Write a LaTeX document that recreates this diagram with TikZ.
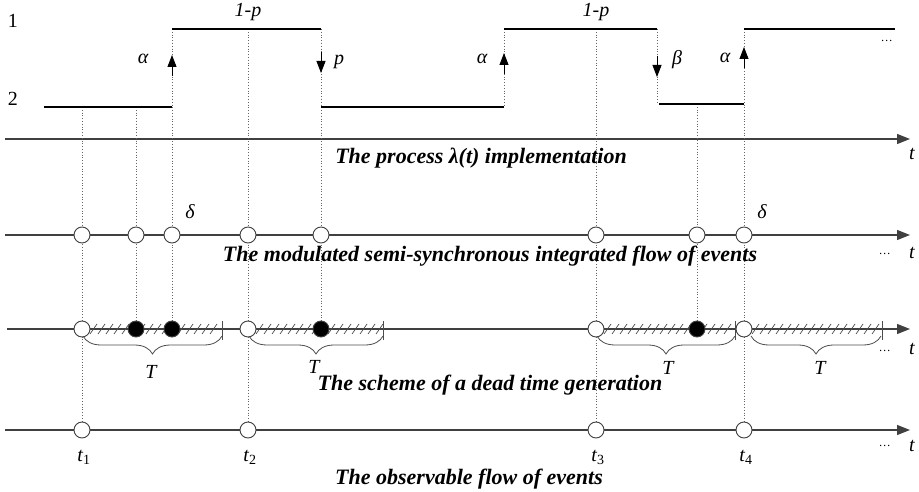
\documentclass[tikz,border=0pt]{standalone}
\usepackage{fontspec}
\setmainfont{Liberation Serif}
\usetikzlibrary{arrows.meta,decorations.pathreplacing}
\begin{document}
\begin{tikzpicture}[x=1pt,y=-1pt,
  axis/.style={draw=black!75, line width=1.2pt, -{Triangle[width=10pt,length=13pt]}},
  level/.style={line width=2.7pt, black},
  guide/.style={dotted, black!60, line width=0.8pt},
  jump/.style={black, line width=0.9pt, -{Triangle[width=9pt,length=12pt]}},
  ev/.style={circle, draw=black!75, fill=white, minimum size=16pt, inner sep=0pt, line width=0.9pt},
  evf/.style={ev, fill=black},
  lab/.style={font=\itshape\fontsize{20}{20}\selectfont, inner sep=0pt},
  num/.style={font=\fontsize{20}{20}\selectfont, inner sep=0pt},
  captxt/.style={font=\bfseries\itshape\fontsize{22}{22}\selectfont, inner sep=0pt},
  hatch/.style={black!70, line width=0.7pt},
  brc/.style={decorate, decoration={brace, amplitude=18pt, mirror}, black!70, line width=0.8pt}
]
\useasboundingbox (0,0) rectangle (919,492);

% axes
\coordinate (a1s) at (5,139);  \coordinate (a1e) at (910,139);
\coordinate (a2s) at (5,235);  \coordinate (a2e) at (910,235);
\coordinate (a3s) at (7,329);  \coordinate (a3e) at (910,329);
\coordinate (a4s) at (5,430);  \coordinate (a4e) at (910,430);
\draw[axis] (a1s) -- (a1e);
\draw[axis] (a2s) -- (a2e);
\draw[axis] (a3s) -- (a3e);
\draw[axis] (a4s) -- (a4e);

% level coordinates
\coordinate (s0) at (44,107);
\coordinate (u3) at (172,29);  \coordinate (l3) at (172,107);
\coordinate (u5) at (321,29);  \coordinate (l5) at (321,107);
\coordinate (u6) at (504,29);  \coordinate (l6) at (504,107);
\coordinate (u8) at (657,29);  \coordinate (l8) at (657,104);
\coordinate (u10) at (744,29); \coordinate (l10) at (744,104);
\coordinate (eend) at (895,29);
\coordinate (g1) at (82,107);
\coordinate (g2) at (136,107);
\coordinate (g4) at (248,29);
\coordinate (g7) at (596,29);
\coordinate (g9) at (697,104);

% guides
\draw[guide] (g1) -- (82,430);
\draw[guide] (g2) -- (136,329);
\draw[guide] (u3) -- (172,329);
\draw[guide] (g4) -- (248,430);
\draw[guide] (u5) -- (321,329);
\draw[guide] (u6) -- (l6);
\draw[guide] (g7) -- (596,430);
\draw[guide] (u8) -- (l8);
\draw[guide] (g9) -- (697,329);
\draw[guide] (u10) -- (744,430);

% levels
\draw[level] (s0) -- (l3);
\draw[level] (u3) -- (u5);
\draw[level] (l5) -- (l6);
\draw[level] (u6) -- (u8);
\draw[level] (659,104) -- (l10);
\draw[level] (u10) -- (eend);

% jump arrows
\coordinate (j3a) at (172,76); \coordinate (j3b) at (172,55);
\coordinate (j5a) at (321,52); \coordinate (j5b) at (321,73);
\coordinate (j6a) at (504,74); \coordinate (j6b) at (504,53);
\coordinate (j8a) at (657,56); \coordinate (j8b) at (657,77);
\coordinate (j10a) at (744,68); \coordinate (j10b) at (744,47);
\draw[jump] (j3a) -- (j3b);
\draw[jump] (j5a) -- (j5b);
\draw[jump] (j6a) -- (j6b);
\draw[jump] (j8a) -- (j8b);
\draw[jump] (j10a) -- (j10b);

% top labels
\node[num] (n1) at (13,21) {1};
\node[num] (n2) at (13,99) {2};
\node[lab] (la1) at (143,59) {α};
\node[lab] (lp) at (339,62) {p};
\node[lab] (lq1) at (248,12) {1-p};
\node[lab] (lq2) at (596,12) {1-p};
\node[lab] (la2) at (482,59) {α};
\node[lab] (lb) at (677,60) {β};
\node[lab] (la3) at (725,58) {α};
\node[lab] (dd0) at (887,41) {\fontsize{12}{12}\selectfont\dots};
\node[lab] (lt1) at (912,154) {t};

% axis 2 events
\foreach \n/\x in {1/82,2/136,3/172,4/248,5/321,7/596,9/697,10/744}
  \node[ev] (m\n) at (\x,235) {};
\node[lab] (ld1) at (190,212) {δ};
\node[lab] (ld2) at (762,212) {δ};
\node[lab] (dd2) at (885,254) {\fontsize{12}{12}\selectfont\dots};
\node[lab] (lt2) at (912,253) {t};

% axis 3 hatching
\foreach \s in {82,248,596,744}
  \foreach \i in {0,...,15}
    \draw[hatch] ({\s+8+8*\i},334) -- ({\s+15+8*\i},324);
% ticks at end of dead time
\foreach \e in {222,383,735,882}
  \draw[black!70, line width=0.8pt] (\e,321) -- (\e,340);
% braces
\draw[brc] (83,336) -- (222,336);
\draw[brc] (249,336) -- (383,336);
\draw[brc] (597,336) -- (735,336);
\draw[brc] (751,336) -- (881,336);
\node[lab] (T1) at (151,372) {T};
\node[lab] (T2) at (314,367) {T};
\node[lab] (T3) at (668,368) {T};
\node[lab] (T4) at (820,368) {T};

% axis 3 events
\foreach \n/\x in {1/82,4/248,7/596,10/744}
  \node[ev] (d\n) at (\x,329) {};
\foreach \n/\x in {2/136,3/172,5/321,9/697}
  \node[evf] (d\n) at (\x,329) {};
\node[lab] (dd3) at (885,351) {\fontsize{12}{12}\selectfont\dots};
\node[lab] (lt3) at (912,349) {t};

% axis 4 events
\foreach \n/\x in {1/82,4/248,7/596,10/744}
  \node[ev] (o\n) at (\x,430) {};
\node[lab] (tt1) at (84,457) {t\textsubscript{\upshape 1}};
\node[lab] (tt2) at (250,457) {t\textsubscript{\upshape 2}};
\node[lab] (tt3) at (598,457) {t\textsubscript{\upshape 3}};
\node[lab] (tt4) at (746,457) {t\textsubscript{\upshape 4}};
\node[lab] (dd4) at (885,446) {\fontsize{12}{12}\selectfont\dots};
\node[lab] (lt4) at (912,446) {t};

% captions
\node[captxt] (c1) at (481,158) {The process λ(t) implementation};
\node[captxt] (c2) at (490,256) {The modulated semi-synchronous integrated flow of events};
\node[captxt] (c3) at (490,385) {The scheme of a dead time generation};
\node[captxt] (c4) at (469,479) {The observable flow of events};
\end{tikzpicture}
\end{document}
